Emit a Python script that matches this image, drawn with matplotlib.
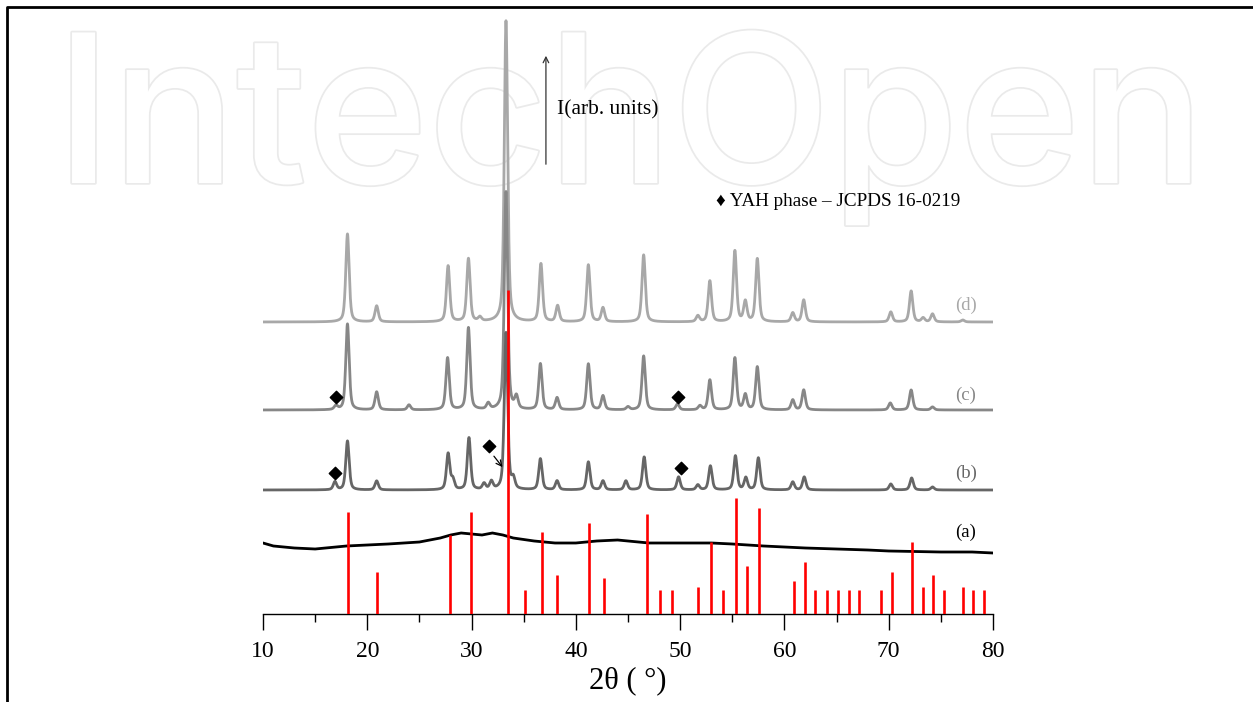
import numpy as np
import matplotlib.pyplot as plt
from matplotlib.lines import Line2D
import matplotlib.patheffects as pe

# reference pattern (JCPDS sticks): 2theta and stick height (px-like units above axis)
ref_pos = [18.12, 20.9, 27.9, 29.91, 33.46, 35.12, 36.75, 38.22, 41.26, 42.66, 46.79,
           48.06, 49.18, 51.74, 52.92, 54.07, 55.35, 56.37, 57.56, 60.88, 61.93, 62.89,
           64.04, 65.13, 66.18, 67.11, 69.22, 70.27, 72.22, 73.25, 74.21, 75.29, 77.08,
           78.04, 79.1]
ref_int = [102, 42, 79, 102, 324, 24, 82, 39, 91, 36, 100,
           24, 24, 27, 72, 24, 116, 48, 106, 33, 52, 24,
           24, 24, 24, 24, 24, 42, 72, 27, 39, 24, 27,
           24, 24]

# (a) amorphous sample: baseline
a_x = [10, 11, 12, 13, 15, 18, 20, 22, 25, 27, 28, 29, 30, 31, 32, 33, 34, 36, 38, 40,
       42, 44, 46, 47, 50, 53, 55, 58, 60, 62, 65, 68, 70, 75, 78, 80]
a_y = [71, 68, 67, 66, 65, 68, 69, 70, 72, 76, 79, 81, 80, 79, 81, 79, 76, 73, 71, 71,
       73, 74, 72, 71, 71, 71, 70, 68, 67, 66, 65, 64, 63, 62, 62, 61]

# (b), (c), (d): baseline offset and peak list (position, height above baseline)
b_base = 124
b_pos = [16.9, 18.1, 20.9, 27.75, 28.2, 29.75, 31.2, 31.9, 33.3, 34.0, 36.6, 38.2, 41.2,
         42.6, 44.8, 46.55, 49.85, 51.7, 52.9, 55.3, 56.3, 57.5, 60.8, 61.9, 70.2, 72.2, 74.2]
b_hgt = [8, 49, 9, 36, 10, 52, 6, 8, 157, 10, 31, 9, 28,
         9, 9, 33, 13, 5, 24, 34, 12, 32, 8, 13, 6, 12, 3]

c_base = 204
c_pos = [17.0, 18.1, 20.9, 24.0, 27.7, 29.7, 31.6, 33.3, 34.3, 36.6, 38.2, 41.2, 42.6,
         45.0, 46.5, 49.75, 51.9, 52.85, 55.25, 56.25, 57.4, 60.8, 61.85, 70.15, 72.15, 74.2]
c_hgt = [4, 86, 18, 5, 52, 82, 6, 218, 12, 46, 12, 46, 14,
         3, 54, 6, 4, 30, 52, 15, 43, 10, 20, 7, 20, 3]

d_base = 292
d_pos = [18.1, 20.9, 27.75, 29.7, 30.8, 33.3, 36.65, 38.25, 41.2, 42.6, 46.5, 51.7, 52.85,
         55.25, 56.25, 57.4, 60.8, 61.85, 70.2, 72.15, 73.3, 74.2, 77.1]
d_hgt = [88, 16, 56, 63, 4, 301, 58, 16, 57, 14, 67, 6, 41,
         71, 20, 63, 9, 22, 10, 31, 4, 8, 2]

# YAH phase markers (2theta, height)
yah_x = [17.0, 49.8, 16.9, 50.05, 31.67]
yah_y = [217, 217, 141, 146, 168]

labels = ['(a)', '(b)', '(c)', '(d)']
label_y = [82, 141, 219, 309]
colors = ['black', '#666666', '#878787', '#a8a8a8']

tt = np.linspace(10, 80, 3501)


def profile(base, pos, hgt, fwhm=0.38, eta=0.5):
    y = np.full_like(tt, float(base))
    g = fwhm / 2
    s = fwhm / 2.355
    for p, h in zip(pos, hgt):
        lor = g**2 / ((tt - p)**2 + g**2)
        gau = np.exp(-(tt - p)**2 / (2 * s**2))
        y += h * (eta * lor + (1 - eta) * gau)
    return y


plt.rcParams['font.family'] = ['Liberation Serif', 'DejaVu Sans']

fig = plt.figure(figsize=(12.53, 7.02), dpi=100)

# watermark
fig.text(0.503, 1 - 183 / 702, 'IntechOpen', fontsize=149, family='Inter',
         fontweight='medium', color='white', ha='center', va='baseline', zorder=-5,
         path_effects=[pe.Stroke(linewidth=2.5, foreground='#eaeaea'), pe.Normal()])

# frame lines (top and left)
fig.add_artist(Line2D([7 / 1253, 7 / 1253, 1], [0, 1 - 7 / 702, 1 - 7 / 702],
                      color='black', lw=2.0))

ax = fig.add_axes([263 / 1253, 88 / 702, 730 / 1253, 614 / 702])
ax.set_facecolor('none')

ax.plot(tt, profile(d_base, d_pos, d_hgt), color=colors[3], lw=2.0)
ax.plot(tt, profile(c_base, c_pos, c_hgt), color=colors[2], lw=2.0)
ax.plot(tt, profile(b_base, b_pos, b_hgt), color=colors[1], lw=2.0)
ax.plot(a_x, a_y, color=colors[0], lw=2.0)
ax.vlines(ref_pos, 0, ref_int, color='red', lw=1.9, zorder=5)

ax.scatter(yah_x, yah_y, marker='D', s=40, color='black', zorder=6)
ax.annotate('', xy=(33.13, 144.7), xytext=(31.98, 160),
            arrowprops=dict(arrowstyle='->', lw=0.9, color='black'))

for lab, ly, col in zip(labels, label_y, colors):
    ax.text(77.4, ly, lab, fontsize=13.5, color=col, ha='center', va='center')

ax.annotate('', xy=(37.13, 561), xytext=(37.13, 447),
            arrowprops=dict(arrowstyle='->', lw=0.9, color='#333333'))
ax.text(38.2, 504, 'I(arb. units)', fontsize=15.5, ha='left', va='center')
ax.text(53.4, 412, '\u2666 YAH phase \u2013 JCPDS 16-0219', fontsize=13.8,
        ha='left', va='center')

ax.set_xlim(10, 80)
ax.set_ylim(0, 614)
ax.set_xticks(range(10, 81, 10))
ax.set_xticks(range(15, 80, 10), minor=True)
ax.tick_params(axis='x', which='major', direction='out', length=11.5, width=1.0,
               labelsize=17, pad=8)
ax.tick_params(axis='x', which='minor', direction='out', length=5.8, width=1.0)
ax.set_yticks([])
for s in ['left', 'right', 'top']:
    ax.spines[s].set_visible(False)
ax.spines['bottom'].set_linewidth(1.0)
ax.set_xlabel('2\u03b8 ( \u00b0)', fontsize=22, labelpad=3)

fig.savefig('out.png', dpi=100)
